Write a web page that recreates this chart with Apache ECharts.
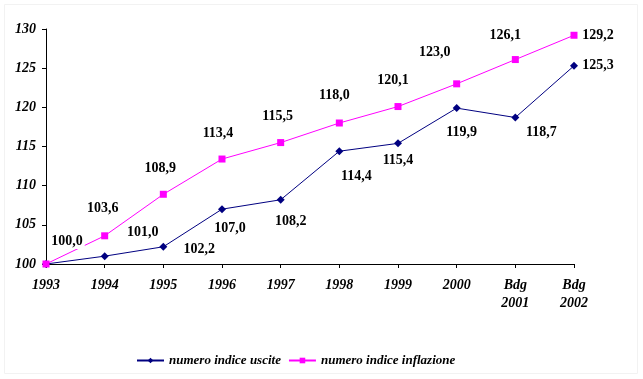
<!DOCTYPE html>
<html>
<head>
<meta charset="utf-8">
<script src="https://cdn.jsdelivr.net/npm/echarts@6/dist/echarts.min.js"></script>
<style>
html,body{margin:0;padding:0;background:#fff;}
#c{width:643px;height:379px;}
</style>
</head>
<body>
<div id="c"></div>
<script>
var categories = ['1993','1994','1995','1996','1997','1998','1999','2000','Bdg\n2001','Bdg\n2002'];
var uscite = [100.0, 101.0, 102.2, 107.0, 108.2, 114.4, 115.4, 119.9, 118.7, 125.3];
var inflazione = [100.0, 103.6, 108.9, 113.4, 115.5, 118.0, 120.1, 123.0, 126.1, 129.2];
var yTicks = {min: 100, max: 130, interval: 5};

// label offsets (layout only, pixels relative to each point)
var usciteLabelOffset = [null, [38,-24], [36,3], [8,19], [10,22], [17,25], [0,17], [5,24], [26,15], [24,0]];
var inflLabelOffset = [[21,-23], [-2,-27], [-3,-26], [-4,-26], [-3,-26], [-5,-28], [-5,-26], [-22,-31], [-10,-24], [24,0]];

function fmt(v){ return v.toFixed(1).replace('.', ','); }

function buildData(vals, offs){
  return vals.map(function(v,i){
    var o = offs[i];
    if(!o) return {value: v, label: {show: false}};
    return {value: v, label: {show: true, position: 'inside', offset: o}};
  });
}

var labelStyle = {
  fontFamily: 'Liberation Serif',
  fontWeight: 'bold',
  fontSize: 14,
  color: '#000',
  backgroundColor: '#fff',
  padding: [1, 2],
  formatter: function(p){ return fmt(p.value); }
};

var chart = echarts.init(document.getElementById('c'), null, {renderer: 'canvas'});
chart.setOption({
  animation: false,
  backgroundColor: '#fff',
  graphic: [{
    type: 'rect', shape: {x: 4.5, y: 4.5, width: 633, height: 369},
    style: {fill: 'none', stroke: '#f2f2f2', lineWidth: 1}, silent: true, z: -10
  }],
  grid: {left: 46, right: 69, top: 29, bottom: 115, containLabel: false},
  xAxis: {
    type: 'category',
    data: categories,
    boundaryGap: false,
    axisLine: {lineStyle: {color: '#000', width: 1}},
    axisTick: {show: true, inside: false, length: 4, alignWithLabel: true, lineStyle: {color: '#000'}},
    axisLabel: {
      interval: 0, margin: 12,
      fontFamily: 'Liberation Serif', fontStyle: 'italic', fontWeight: 'bold',
      fontSize: 14, color: '#000', lineHeight: 18
    },
    splitLine: {show: false}
  },
  yAxis: {
    type: 'value',
    min: yTicks.min, max: yTicks.max, interval: yTicks.interval,
    axisLine: {show: true, lineStyle: {color: '#000', width: 1}},
    axisTick: {show: true, inside: false, length: 4, lineStyle: {color: '#000'}},
    axisLabel: {
      margin: 10,
      fontFamily: 'Liberation Serif', fontStyle: 'italic', fontWeight: 'bold',
      fontSize: 14, color: '#000'
    },
    splitLine: {show: false}
  },
  legend: {
    left: 131, top: 349,
    itemWidth: 27, itemHeight: 7, itemGap: 7,
    textStyle: {fontFamily: 'Liberation Serif', fontStyle: 'italic', fontWeight: 'bold', fontSize: 13, color: '#000'},
    data: ['numero indice uscite', 'numero indice inflazione']
  },
  series: [
    {
      name: 'numero indice uscite',
      type: 'line',
      data: buildData(uscite, usciteLabelOffset),
      symbol: 'diamond', symbolSize: 8,
      lineStyle: {color: '#000080', width: 1},
      itemStyle: {color: '#000080'},
      label: labelStyle,
      z: 2
    },
    {
      name: 'numero indice inflazione',
      type: 'line',
      data: buildData(inflazione, inflLabelOffset),
      symbol: 'rect', symbolSize: 7,
      lineStyle: {color: '#ff00ff', width: 1},
      itemStyle: {color: '#ff00ff'},
      label: labelStyle,
      z: 3
    }
  ]
});
</script>
</body>
</html>
